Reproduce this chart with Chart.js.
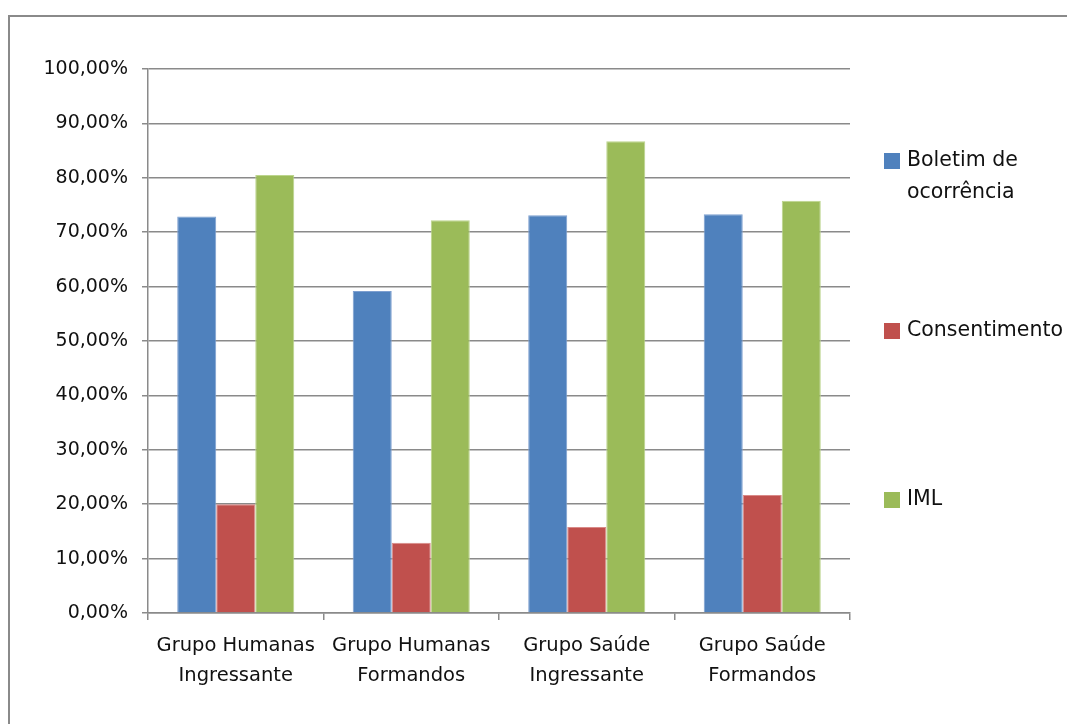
<!DOCTYPE html>
<html lang="pt">
<head>
<meta charset="utf-8">
<title>Grupos - Boletim de ocorrência, Consentimento, IML</title>
<script src="https://cdn.jsdelivr.net/npm/chart.js@4/dist/chart.umd.min.js"></script>
<style>
  html, body { margin: 0; padding: 0; background: #ffffff; overflow: hidden; }
  #wrap { width: 1067px; height: 724px; position: relative; overflow: hidden; }
</style>
</head>
<body>
<div id="wrap"><canvas id="chart" width="1067" height="724"></canvas></div>
<script>
// Categorias (grupos de estudantes)
const categories = [
  ['Grupo Humanas', 'Ingressante'],
  ['Grupo Humanas', 'Formandos'],
  ['Grupo Saúde', 'Ingressante'],
  ['Grupo Saúde', 'Formandos']
];

// Séries (em %)
const seriesNames = [['Boletim de', 'ocorrência'], ['Consentimento'], ['IML']];
const boletim = [72.9, 59.2, 73.1, 73.3];
const consentimento = [20.0, 12.9, 15.8, 21.7];
const iml = [80.5, 72.2, 86.7, 75.8];

// Eixo Y
const yMin = 0;
const yMax = 100;
const yStep = 10;

const colors = ['#4F81BD', '#C0504D', '#9BBB59'];
const edgeColors = ['#7d9fd0', '#d98a88', '#bcd58d'];
const FONT = '"DejaVu Sans", Verdana, sans-serif';

const fmtPct = v => v.toFixed(2).replace('.', ',') + '%';

// Moldura externa do gráfico (bordas superior e esquerda visíveis)
const framePlugin = {
  id: 'frame',
  beforeDraw(chart) {
    const ctx = chart.ctx;
    ctx.save();
    ctx.fillStyle = '#ffffff';
    ctx.fillRect(0, 0, chart.width, chart.height);
    ctx.strokeStyle = '#8a8a8a';
    ctx.lineWidth = 2;
    ctx.beginPath();
    ctx.moveTo(9, chart.height);
    ctx.lineTo(9, 16);
    ctx.lineTo(chart.width, 16);
    ctx.stroke();
    ctx.restore();
  }
};

// Legenda à direita, itens espaçados verticalmente
const sideLegend = {
  id: 'sideLegend',
  afterDraw(chart, args, opts) {
    const ctx = chart.ctx;
    ctx.save();
    ctx.font = opts.fontSize + 'px ' + FONT;
    ctx.textBaseline = 'middle';
    ctx.textAlign = 'left';
    chart.data.datasets.forEach((ds, i) => {
      const y = opts.rows[i];
      ctx.fillStyle = ds.backgroundColor;
      ctx.fillRect(opts.boxX, y - opts.box / 2, opts.box, opts.box);
      ctx.fillStyle = '#111111';
      ds.legendLines.forEach((line, k) => {
        ctx.fillText(line, opts.textX, y + k * opts.lineGap);
      });
    });
    ctx.restore();
  }
};

const makeSet = (label, data, i) => ({
  label: label.join(' '),
  legendLines: label,
  data: data,
  backgroundColor: colors[i],
  borderColor: edgeColors[i],
  borderWidth: 1,
  categoryPercentage: 0.667,
  barPercentage: 1.0
});

new Chart(document.getElementById('chart'), {
  type: 'bar',
  data: {
    labels: categories,
    datasets: [
      makeSet(seriesNames[0], boletim, 0),
      makeSet(seriesNames[1], consentimento, 1),
      makeSet(seriesNames[2], iml, 2)
    ]
  },
  options: {
    responsive: false,
    devicePixelRatio: 1,
    animation: false,
    layout: { padding: { top: 69, right: 217, bottom: 0, left: 0 } },
    plugins: {
      legend: { display: false },
      tooltip: { enabled: false },
      sideLegend: { boxX: 884, textX: 907, box: 16, fontSize: 20.5, lineGap: 32, rows: [161, 331, 500] }
    },
    scales: {
      x: {
        afterFit(s) { s.height = 111; },
        grid: { drawOnChartArea: false, offset: true, tickLength: 7, color: '#8a8a8a', lineWidth: 1.5 },
        border: { color: '#8a8a8a', width: 1.5 },
        ticks: {
          color: '#111111',
          padding: 11,
          maxRotation: 0,
          autoSkip: false,
          font: { family: FONT, size: 19.5, lineHeight: 1.54 }
        }
      },
      y: {
        min: yMin,
        max: yMax,
        afterFit(s) { s.width = 148; },
        grid: { color: '#8a8a8a', lineWidth: 1.5, tickLength: 6 },
        border: { color: '#8a8a8a', width: 1.5 },
        ticks: {
          stepSize: yStep,
          color: '#111111',
          padding: 14,
          font: { family: FONT, size: 19 },
          callback: v => fmtPct(v)
        }
      }
    }
  },
  plugins: [framePlugin, sideLegend]
});
</script>
</body>
</html>
